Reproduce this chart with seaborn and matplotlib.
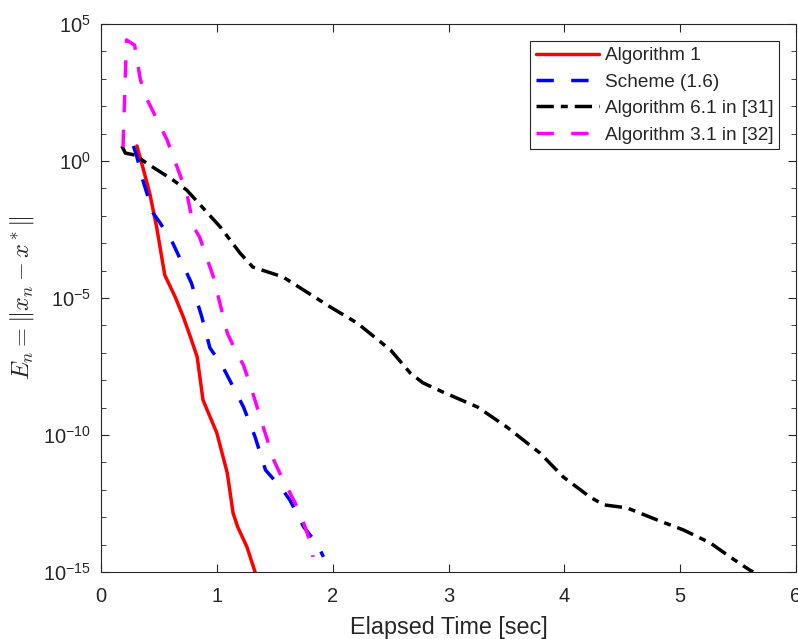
import numpy as np
import pandas as pd
import matplotlib
matplotlib.use("Agg")
import matplotlib.pyplot as plt
import seaborn as sns
from matplotlib.ticker import FixedLocator, NullFormatter

sns.set_style("ticks")
plt.rcParams['font.family'] = ['Liberation Sans', 'DejaVu Sans']
plt.rcParams['mathtext.fontset'] = 'cm'
plt.rcParams['axes.unicode_minus'] = False

# ---- data (log10 of error vs elapsed time) ----
alg1_t = [0.31, 0.36, 0.42, 0.48, 0.55, 0.64, 0.71, 0.77, 0.83, 0.88, 1.00, 1.09, 1.14, 1.18, 1.26, 1.33]
alg1_logE = [0.55, -0.22, -1.17, -2.41, -4.16, -4.96, -5.69, -6.40, -7.15, -8.72, -9.93, -11.39, -12.85, -13.36, -14.09, -15.0]

sch_t = [0.28, 0.31, 0.36, 0.45, 0.51, 0.62, 0.78, 0.87, 0.94, 1.05, 1.23, 1.33, 1.42, 1.55, 1.63, 1.75, 1.87, 1.92]
sch_logE = [0.55, 0.15, -0.69, -1.90, -2.26, -3.00, -4.45, -5.69, -6.82, -7.50, -8.98, -10.07, -11.28, -11.90, -12.37, -13.36, -14.00, -14.45]

a61_t = [0.18, 0.21, 0.29, 0.42, 0.62, 0.74, 1.03, 1.20, 1.31, 1.57, 1.98, 2.21, 2.50, 2.67, 2.78, 2.95, 3.25,
         3.50, 3.79, 3.99, 4.22, 4.34, 4.54, 4.80, 5.03, 5.26, 5.43, 5.60, 5.63]
a61_logE = [0.55, 0.29, 0.22, -0.15, -0.69, -1.06, -2.41, -3.36, -3.87, -4.23, -5.33, -5.91, -6.90, -7.74, -8.10, -8.43, -8.98,
            -9.70, -10.66, -11.53, -12.26, -12.55, -12.66, -13.10, -13.47, -13.94, -14.45, -14.93, -15.0]

a31_t = [0.19, 0.22, 0.29, 0.34, 0.40, 0.57, 0.74, 0.80, 0.85, 0.97, 1.09, 1.17, 1.23, 1.31, 1.40, 1.49, 1.57, 1.63, 1.72, 1.80, 1.83]
a31_logE = [0.51, 4.42, 4.23, 2.96, 2.23, 0.77, -1.17, -2.41, -2.77, -4.23, -6.28, -7.00, -7.45, -8.47, -9.70, -10.90, -11.64, -12.10, -12.85, -13.83, -14.45]

labels = ["Algorithm 1", "Scheme (1.6)", "Algorithm 6.1 in [31]", "Algorithm 3.1 in [32]"]
series = [(alg1_t, alg1_logE), (sch_t, sch_logE), (a61_t, a61_logE), (a31_t, a31_logE)]
colors = ["#ff0000", "#0000ff", "#000000", "#ff00ff"]
styles = ["-", (0, (5, 5)), (0, (5, 2, 2, 2)), (0, (5, 5))]

fig = plt.figure(figsize=(7.98, 6.39), dpi=100)
ax = fig.add_axes([0.1266, 0.1049, 0.8709, 0.8575])

for (t, le), lab, c, ls in zip(series, labels, colors, styles):
    df = pd.DataFrame({"t": t, "E": 10.0 ** np.array(le)})
    sns.lineplot(data=df, x="t", y="E", ax=ax, color=c, lw=2.5, linestyle=ls,
                 label=lab, sort=False, estimator=None)

ax.set_yscale("log")
ax.set_xlim(0, 6)
ax.set_ylim(1e-15, 1e5)
ax.xaxis.set_major_locator(FixedLocator([0, 1, 2, 3, 4, 5, 6]))
ax.yaxis.set_major_locator(FixedLocator([1e-15, 1e-10, 1e-5, 1e0, 1e5]))
ax.yaxis.set_minor_locator(FixedLocator([10.0 ** k for k in range(-15, 6)]))
ax.yaxis.set_minor_formatter(NullFormatter())

spine_c = "#262626"
for s in ax.spines.values():
    s.set_visible(True)
    s.set_color(spine_c)
    s.set_linewidth(0.8)
ax.tick_params(which="both", direction="in", top=True, right=True, colors=spine_c,
               labelcolor="#262626", labelsize=14.5)
ax.tick_params(which="major", length=6)
ax.tick_params(which="minor", length=3.6)
ax.tick_params(axis="x", which="major", pad=11)
ax.tick_params(axis="y", which="major", pad=7)

ax.set_xlabel("Elapsed Time [sec]", fontsize=16.8, color="#262626", labelpad=7)
ax.set_ylabel(r"$E_n = \|x_n - x^*\|$", fontsize=17.5, color="#262626", labelpad=5)

leg = ax.legend(loc="upper right", fontsize=13.7, frameon=True, fancybox=False,
                edgecolor="#262626", framealpha=1, handlelength=3.3,
                borderaxespad=0.9, labelspacing=0.48, borderpad=0.3, handletextpad=0.3)
leg.get_frame().set_linewidth(0.8)

fig.savefig("out.png", dpi=100)
